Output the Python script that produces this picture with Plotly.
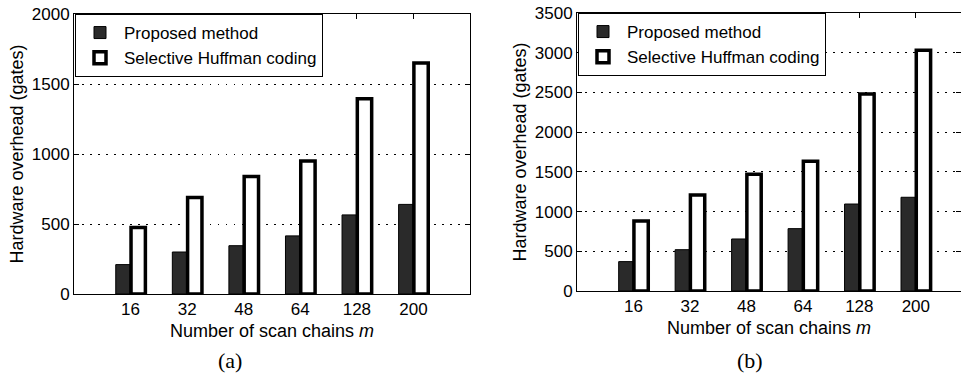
import plotly.graph_objects as go

categories = ["16", "32", "48", "64", "128", "200"]
proposed_a = [210, 300, 345, 415, 565, 640]
huffman_a = [475, 690, 840, 950, 1395, 1650]
proposed_b = [370, 520, 655, 785, 1095, 1180]
huffman_b = [880, 1210, 1470, 1635, 2480, 3030]
series_names = ["Proposed method", "Selective Huffman coding"]
panel_labels = ["(a)", "(b)"]

W, H = 961, 375
FONT = "Liberation Sans"
DARK = "#2a2a2a"

fig = go.Figure()

panels = [
    ("x", "y", "legend", proposed_a, huffman_a),
    ("x2", "y2", "legend2", proposed_b, huffman_b),
]
for xa, ya, lg, prop, huff in panels:
    fig.add_trace(go.Bar(
        x=categories, y=prop, name=series_names[0], xaxis=xa, yaxis=ya, legend=lg,
        marker=dict(color=DARK, line=dict(color="black", width=1)),
    ))
    fig.add_trace(go.Bar(
        x=categories, y=huff, name=series_names[1], xaxis=xa, yaxis=ya, legend=lg,
        marker=dict(color="white", line=dict(color="black", width=3.5)),
    ))

axis_common = dict(
    showline=True, linecolor="black", linewidth=1, mirror="ticks",
    ticks="inside", ticklen=5, tickcolor="black", tickwidth=1,
    tickfont=dict(family=FONT, size=17, color="black"),
    automargin=False,
)
xtitle = dict(text="Number of scan chains <i>m</i>", font=dict(family=FONT, size=18, color="black"), standoff=5)
ytitle = dict(text="Hardware overhead (gates)", font=dict(family=FONT, size=18, color="black"), standoff=3)

fig.update_layout(
    width=W, height=H,
    margin=dict(l=0, r=0, t=0, b=0, pad=0),
    paper_bgcolor="white", plot_bgcolor="white",
    barmode="group", bargap=0.46, bargroupgap=0.06,
    font=dict(family=FONT, color="black"),
    xaxis=dict(domain=[74 / W, 470 / W], anchor="y", type="category", range=[-1, 6],
               showgrid=False, title=xtitle, **axis_common),
    yaxis=dict(domain=[1 - 294 / H, 1 - 14 / H], anchor="x", range=[0, 2000], dtick=500,
               showgrid=True, gridcolor="black", gridwidth=1, griddash="1.5px,6.5px",
               zeroline=False, title=ytitle, **axis_common),
    xaxis2=dict(domain=[577 / W, 1.0], anchor="y2", type="category", range=[-1, 5.8],
                showgrid=False, title=xtitle, **axis_common),
    yaxis2=dict(domain=[1 - 291 / H, 1 - 13 / H], anchor="x2", range=[0, 3500], dtick=500,
                showgrid=True, gridcolor="black", gridwidth=1, griddash="1.5px,6.5px",
                zeroline=False, title=ytitle, **axis_common),
    legend=dict(x=75 / W, y=1 - 14 / H, xanchor="left", yanchor="top",
                bgcolor="white", bordercolor="black", borderwidth=1,
                font=dict(family=FONT, size=17, color="black"), itemwidth=38,
                tracegroupgap=0),
    legend2=dict(x=578 / W, y=1 - 13 / H, xanchor="left", yanchor="top",
                 bgcolor="white", bordercolor="black", borderwidth=1,
                 font=dict(family=FONT, size=17, color="black"), itemwidth=38,
                 tracegroupgap=0),
    showlegend=True,
)

for label, cx in zip(panel_labels, [230, 750]):
    fig.add_annotation(text=label, x=cx / W, y=1 - 360 / H, xref="paper", yref="paper",
                       showarrow=False, xanchor="center", yanchor="middle",
                       font=dict(family="Liberation Serif", size=22, color="black"))

fig.write_html("out.html")
